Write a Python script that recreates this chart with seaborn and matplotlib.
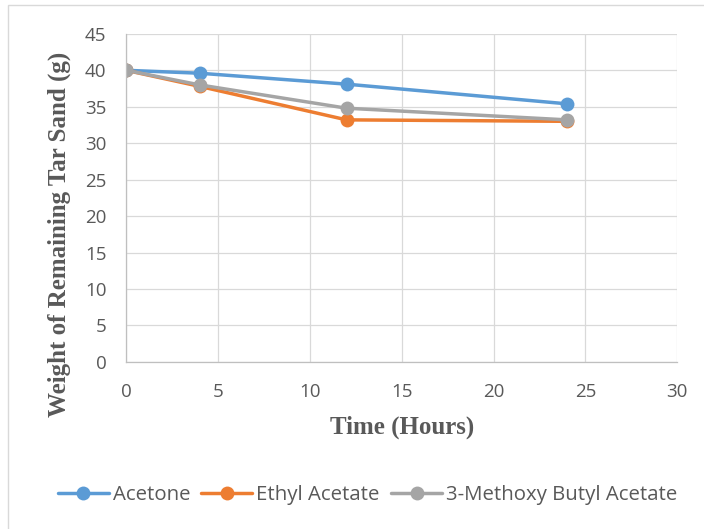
import pandas as pd
import matplotlib.pyplot as plt
import seaborn as sns
from matplotlib.patches import Rectangle

hours = [0, 4, 12, 24]
acetone = [40.0, 39.6, 38.1, 35.4]
ethyl_acetate = [40.0, 37.8, 33.2, 33.0]
methoxy_butyl_acetate = [40.0, 38.0, 34.8, 33.2]

names = ['Acetone', 'Ethyl Acetate', '3-Methoxy Butyl Acetate']
colors = ['#5B9BD5', '#ED7D31', '#A5A5A5']

df = pd.DataFrame({
    'hours': hours * 3,
    'weight': acetone + ethyl_acetate + methoxy_butyl_acetate,
    'solvent': [n for n in names for _ in hours],
})

sns.set_style('white')
plt.rcParams['font.family'] = ['Open Sans', 'DejaVu Sans']

fig = plt.figure(figsize=(7.04, 5.29), dpi=100)
ax = fig.add_axes([0.179, 0.316, 0.783, 0.62])

sns.lineplot(data=df, x='hours', y='weight', hue='solvent', hue_order=names,
             palette=colors, marker='o', markersize=10, markeredgewidth=0,
             linewidth=2.5, ax=ax)

ax.set_xlim(0, 30)
ax.set_ylim(0, 45)
ax.set_xticks(range(0, 31, 5))
ax.set_yticks(range(0, 46, 5))
ax.grid(True, color='#D9D9D9', linewidth=0.9)
ax.set_axisbelow(True)
for s in ['top', 'right']:
    ax.spines[s].set_visible(False)
for s in ['left', 'bottom']:
    ax.spines[s].set_color('#BFBFBF')
    ax.spines[s].set_linewidth(0.9)
ax.tick_params(axis='both', length=0, labelsize=13.5, labelcolor='#595959')
ax.tick_params(axis='y', pad=14)
ax.tick_params(axis='x', pad=15)

ax.set_xlabel('Time (Hours)', fontsize=18, fontweight='bold', color='#595959',
              family='Liberation Serif')
ax.set_ylabel('Weight of Remaining Tar Sand (g)', fontsize=18, fontweight='bold',
              color='#595959', family='Liberation Serif')
ax.xaxis.set_label_coords(402 / 704, (529 - 416) / 529, transform=fig.transFigure)
ax.yaxis.set_label_coords(71 / 704, (529 - 234) / 529, transform=fig.transFigure)

handles, labels = ax.get_legend_handles_labels()
ax.legend(handles, labels, loc='center', bbox_to_anchor=(0.522, 0.064),
          bbox_transform=fig.transFigure, ncol=3, frameon=False,
          fontsize=14.7, labelcolor='#595959', handlelength=2.5,
          handletextpad=0.2, columnspacing=0.55)

fig.patches.append(Rectangle((0.012, -0.01), 1.0, 1.0, transform=fig.transFigure,
                             fill=False, edgecolor='#D9D9D9', linewidth=1))

fig.savefig('out.png', dpi=100)
